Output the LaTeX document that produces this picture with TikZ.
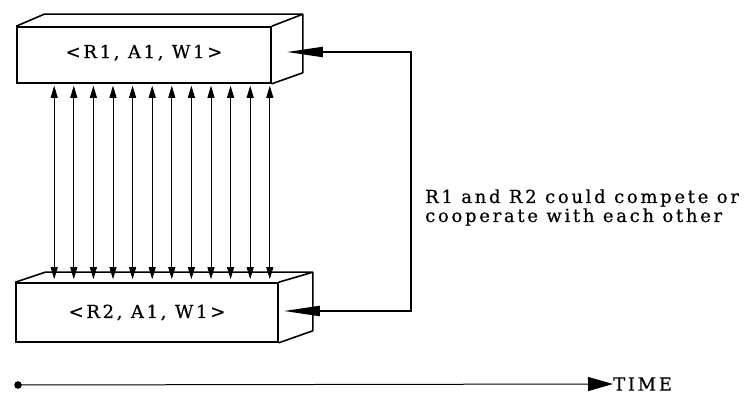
\documentclass[tikz,border=0pt]{standalone}
\usepackage{fontspec}
\setmainfont[LetterSpace=15,FakeBold=0.6]{DejaVu Serif}
\usetikzlibrary{arrows.meta,calc}
\begin{document}
\begin{tikzpicture}[x=1pt,y=-1pt,
  txt/.style={font=\fontsize{18}{21}\selectfont},
  box/.style={draw,line width=1.6pt,inner sep=0pt,txt},
  dbl/.style={line width=0.8pt,{Triangle[length=12pt,width=7pt]}-{Triangle[length=12pt,width=7pt]}},
  link/.style={line width=2pt,-{Triangle[length=36pt,width=10pt]}},
  ax/.style={line width=1pt,-{Triangle[length=25pt,width=14pt]}}]
\useasboundingbox (0,0) rectangle (756,395);
% top box
\node[box,minimum width=254pt,minimum height=56pt,text depth=7pt] (r1) at (144,55) {<R1, A1, W1>};
\draw[line width=1.6pt,line join=round] (r1.north west) -- ++(28,-12) -- ($(r1.north east)+(31,-12)$) -- (r1.north east)
  ($(r1.north east)+(31,-12)$) -- ($(r1.south east)+(31,-11)$) -- (r1.south east);
% bottom box
\node[box,minimum width=262pt,minimum height=59pt] (r2) at (147,312.5) {<R2, A1, W1>};
\draw[line width=1.6pt,line join=round] (r2.north west) -- ++(30,-10) -- ($(r2.north east)+(34,-10)$) -- (r2.north east)
  ($(r2.north east)+(34,-10)$) -- ($(r2.south east)+(34,-12)$) -- (r2.south east);
% vertical double arrows
\foreach \i in {0,...,11}{
  \path (r1.south west) ++({38+\i*19.6},2) coordinate (a\i);
  \draw[dbl] (a\i) -- ($(a\i |- r2.north)+(0,-3)$);
}
% bracket
\coordinate (k1) at (411,52);
\coordinate (k2) at (411,311);
\draw[line width=2pt,line cap=rect] (k1) -- (k2);
\draw[link] (k1) -- ($(r1.east)+(15,-3)$);
\draw[link] (k2) -- ($(r2.east)+(5,-1.5)$);
\node[txt,anchor=base west,inner sep=0pt] (lab1) at (425,203) {R1 and R2 could compete or};
\node[txt,anchor=base west,inner sep=0pt] (lab2) at (425,222) {cooperate with each other};
% time axis
\coordinate (t0) at (18,385);
\fill (t0) circle (3.8pt);
\node[txt,anchor=west,inner sep=0pt] (time) at (613,384) {TIME};
\draw[ax] (t0) -- (time.west);
\end{tikzpicture}
\end{document}
